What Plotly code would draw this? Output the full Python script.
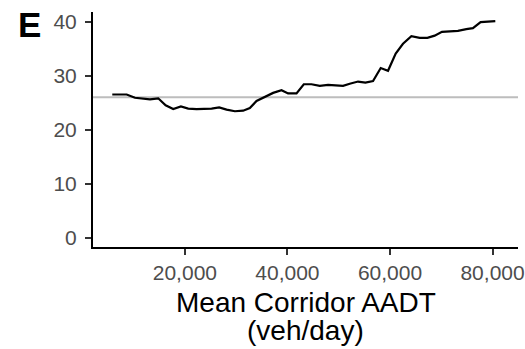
import plotly.graph_objects as go

aadt = [5845, 8650, 10267, 13190, 14806, 16248, 17729, 19229, 20651, 22287,
        25210, 26690, 28132, 29749, 31366, 32671, 33976, 35593, 37210, 38847,
        40132, 41769, 43191, 44691, 46308, 47925, 50847, 52152, 53769, 55211,
        56692, 58192, 59614, 61114, 62536, 64172, 65790, 67290, 68712, 70134,
        71634, 73251, 74888, 76174, 77674, 79096, 80537]
values = [26.5, 26.5, 25.9, 25.6, 25.8, 24.5, 23.8, 24.3, 23.9, 23.8,
          23.9, 24.1, 23.7, 23.4, 23.5, 24.0, 25.3, 26.0, 26.8, 27.3,
          26.7, 26.7, 28.4, 28.4, 28.1, 28.3, 28.1, 28.5, 28.9, 28.7,
          29.0, 31.4, 30.9, 34.1, 35.9, 37.3, 37.0, 37.0, 37.4, 38.1,
          38.2, 38.3, 38.6, 38.8, 39.9, 40.0, 40.1]
reference_level = 26.0
y_ticks = [0, 10, 20, 30, 40]
x_ticks = [20000, 40000, 60000, 80000]
x_ticklabels = ["20,000", "40,000", "60,000", "80,000"]
panel_label = "E"
x_title_1 = "Mean Corridor AADT"
x_title_2 = "(veh/day)"

FONT = "Liberation Sans, Arial, sans-serif"

fig = go.Figure()
fig.add_trace(go.Scatter(x=aadt, y=values, mode="lines",
                         line=dict(color="black", width=2.2), showlegend=False,
                         hoverinfo="skip"))
fig.add_hline(y=reference_level, line=dict(color="#bdbdbd", width=2), layer="below")

axis_common = dict(showgrid=False, zeroline=False, showline=True, linecolor="black",
                   linewidth=2, ticks="outside", ticklen=6, tickwidth=1.5,
                   tickcolor="#333333", tickfont=dict(size=21, color="#4D4D4D"),
                   automargin=False, ticklabeloverflow="allow")

fig.update_layout(
    width=525, height=349,
    margin=dict(l=93, r=7, t=12, b=102, pad=0),
    plot_bgcolor="white", paper_bgcolor="white",
    font=dict(family=FONT),
    xaxis=dict(range=[2085, 84963], tickvals=x_ticks, ticktext=x_ticklabels,
               ticklabelstandoff=0, **axis_common),
    yaxis=dict(range=[-1.74, 41.78], tickvals=y_ticks, ticklabelstandoff=4,
               **axis_common),
    annotations=[
        dict(text=f"<b>{panel_label}</b>", xref="paper", yref="paper",
             x=-0.149, y=0.947, xanchor="center", yanchor="middle",
             showarrow=False, font=dict(size=35, color="black", family=FONT)),
        dict(text=x_title_1, xref="paper", yref="paper",
             x=0.5, y=-0.238, xanchor="center", yanchor="middle",
             showarrow=False, font=dict(size=28, color="black", family=FONT)),
        dict(text=x_title_2, xref="paper", yref="paper",
             x=0.5, y=-0.356, xanchor="center", yanchor="middle",
             showarrow=False, font=dict(size=28, color="black", family=FONT)),
    ],
)

fig.write_html("out.html")
